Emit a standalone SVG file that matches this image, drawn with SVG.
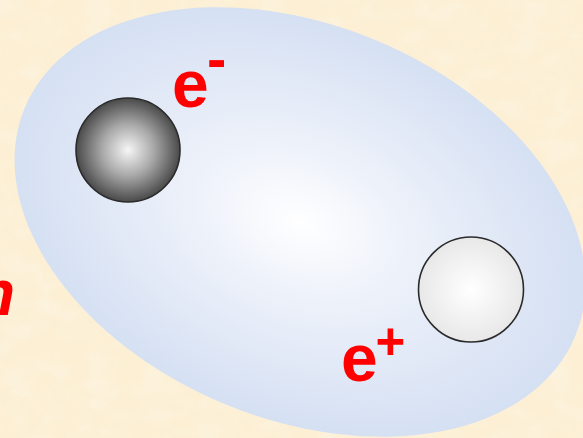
<svg xmlns="http://www.w3.org/2000/svg" width="583" height="438" viewBox="0 0 583 438">
<style>
.lbl{font-family:"Liberation Sans",Arial,sans-serif;font-weight:bold;fill:#ff0000}
.sph{stroke:#2a2a2a;stroke-width:1.6}
</style>
<defs>
<filter id="tex" x="0" y="0" width="100%" height="100%">
<feTurbulence type="fractalNoise" baseFrequency="0.035 0.05" numOctaves="3" seed="4" result="n"/>
<feColorMatrix in="n" type="matrix" values="0 0 0 0 1  0 0 0 0 1  0 0 0 0 1  0.9 0 0 0 -0.35"/>
</filter>
<radialGradient id="cloud" cx="0.5" cy="0.5" r="0.5">
<stop offset="0" stop-color="#ffffff"/>
<stop offset="0.35" stop-color="#eef2fa"/>
<stop offset="0.75" stop-color="#dfe7f6"/>
<stop offset="1" stop-color="#d5e0f3"/>
</radialGradient>
<radialGradient id="dark" cx="0.5" cy="0.5" r="0.5">
<stop offset="0" stop-color="#f6f6f6"/>
<stop offset="0.5" stop-color="#a8a8a8"/>
<stop offset="1" stop-color="#4a4a4a"/>
</radialGradient>
<radialGradient id="light" cx="0.5" cy="0.5" r="0.5">
<stop offset="0" stop-color="#ffffff"/>
<stop offset="1" stop-color="#e8e8e8"/>
</radialGradient>
</defs>
<rect width="583" height="438" fill="#fcefd4"/>
<rect width="583" height="438" filter="url(#tex)" opacity="0.5"/>
<g id="n-label"><text class="lbl" x="-24" y="315" font-size="64" font-style="italic">n</text></g>
<g id="cloud-node"><ellipse cx="300" cy="222" rx="298" ry="197" transform="rotate(22.5 300 222)" fill="url(#cloud)"/></g>
<g id="electron"><circle class="sph" cx="128" cy="150" r="52" fill="url(#dark)"/></g>
<g id="positron"><circle class="sph" cx="471" cy="289.5" r="52.5" fill="url(#light)"/></g>
<g id="e-minus"><text class="lbl" x="172" y="107" font-size="66">e</text><text class="lbl" x="207" y="79" font-size="58">-</text></g>
<g id="e-plus"><text class="lbl" x="341" y="381" font-size="66">e</text><text class="lbl" x="375.5" y="359" font-size="51">+</text></g>
<g id="connectors"></g>
</svg>
